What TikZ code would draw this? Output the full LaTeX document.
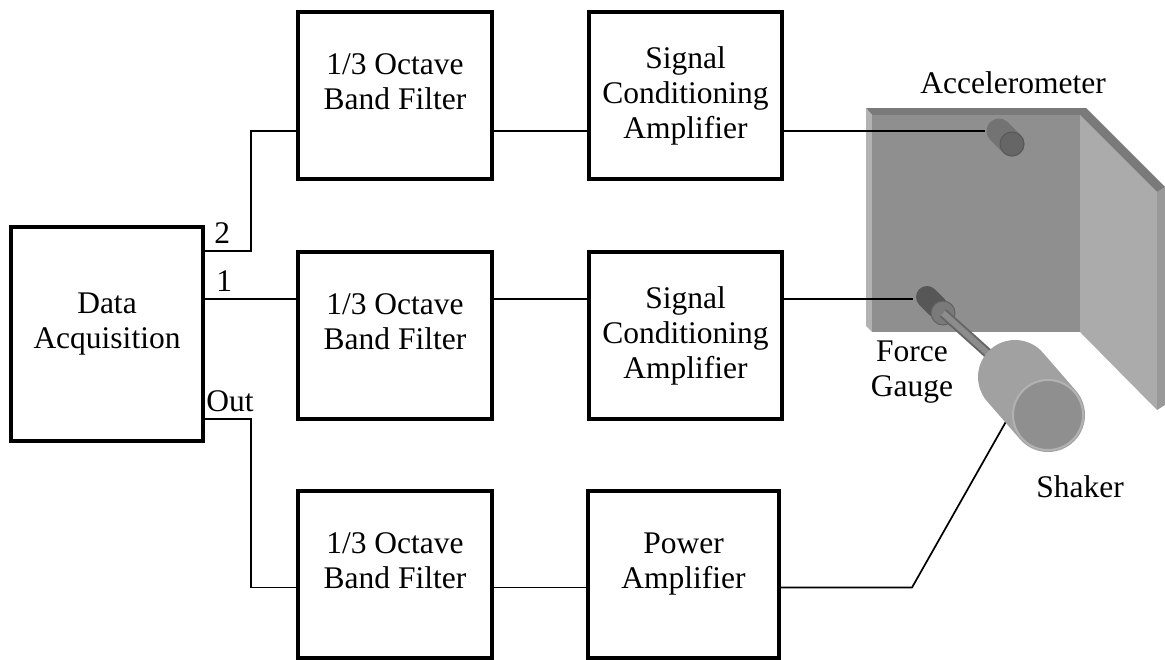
\documentclass[tikz,border=0pt]{standalone}
\usepackage{fontspec}
\setmainfont{Liberation Serif}
\begin{document}
\begin{tikzpicture}[x=0.5pt, y=-0.5pt, %Montaje de medida
        every node/.style={font=\fontsize{15.75pt}{17.5pt}\selectfont},
        blk/.style={draw, line width=2pt, inner sep=0pt, outer sep=0pt, align=center},
        lifted/.style={text depth=13.5pt},
        wire/.style={line width=0.85pt},
        port/.style={anchor=base west, inner sep=0pt}]
            \useasboundingbox (0,0) rectangle (1165,659);

            % placa en L
            \fill[black!33] (1080,115) -- (1157,192) -- (1157,410) -- (1080,332) -- cycle;
            \fill[black!40] (1157,192) -- (1165,187) -- (1165,405) -- (1157,410) -- cycle;
            \fill[black!52] (866,108) -- (1086,108) -- (1165,187) -- (1157,192) -- (1080,115) -- (872,115) -- cycle;
            \fill[black!30] (866,108) -- (872,115) -- (872,332) -- (866,326) -- cycle;
            \fill[black!44] (872,115) rectangle (1080,332);

            \node[blk, minimum width=96pt, minimum height=107pt, lifted] (daq) at (107,334) {Data\\Acquisition};

            \node[blk, minimum width=97pt, minimum height=83.5pt, lifted] (filt2) at (395,95.5) {1/3 Octave\\Band Filter};
            \node[blk, minimum width=97pt, minimum height=83.5pt, lifted] (filt1) at (395,335.5) {1/3 Octave\\Band Filter};
            \node[blk, minimum width=97pt, minimum height=83.5pt, lifted] (filt0) at (395,574) {1/3 Octave\\Band Filter};

            \node[blk, minimum width=96.5pt, minimum height=83.5pt] (cond2) at (685.5,95.5) {Signal\\Conditioning\\Amplifier};
            \node[blk, minimum width=96.5pt, minimum height=83.5pt] (cond1) at (685.5,335.5) {Signal\\Conditioning\\Amplifier};
            \node[blk, minimum width=95.5pt, minimum height=83.5pt, lifted] (power) at (683.5,574) {Power\\Amplifier};

            \coordinate (ch2) at ([yshift=-12pt]daq.north east);
            \coordinate (ch1) at ([yshift=-36pt]daq.north east);
            \coordinate (chout) at ([yshift=-96pt]daq.north east);
            \coordinate (in2) at ([yshift=-59.5pt]filt2.north west);
            \coordinate (in0) at ([yshift=-48.5pt]filt0.north west);
            \coordinate (acc) at (985,131);
            \coordinate (gauge) at (913,299);
            \coordinate (bend) at (912,587.5);
            \coordinate (shk) at (1008,418);

            \draw[wire] (ch2) -- ++(24pt,0) |- (in2);
            \draw[wire] (ch1) -- (ch1 -| filt1.west);
            \draw[wire] (chout) -- ++(24pt,0) |- (in0);

            \draw[wire] (in2 -| filt2.east) -- (in2 -| cond2.west);
            \draw[wire] (ch1 -| filt1.east) -- (ch1 -| cond1.west);
            \draw[wire] (in0 -| filt0.east) -- (in0 -| power.west);

            \draw[wire] (in2 -| cond2.east) -- (acc);
            \draw[wire] (ch1 -| cond1.east) -- (gauge);
            \draw[wire] (in0 -| power.east) -- (bend) -- (shk);

            % acelerometro
            \draw[line width=12.5pt, line cap=round, black!55] (999,131) -- (1012,144);
            \filldraw[fill=black!60, draw=black!66, line width=0.5pt] (1012,144) circle (6pt);

            % galga y varilla
            \draw[line width=11pt, line cap=round, black!66] (927,297) -- (937,307);
            \filldraw[fill=black!52, draw=black!62, line width=0.5pt] (943,313) circle (6pt);
            \draw[line width=5pt, black!60] (943,313) -- (1012,375);
            \draw[line width=3pt, black!45] (943,313) -- (1012,375);

            % excitador
            \draw[line width=37pt, line cap=round, black!37] (1015,377) -- (1048,415);
            \filldraw[fill=black!44, draw=black!30, line width=1pt] (1048,415) circle (17.5pt);

            \node[port] (n2) at ([xshift=5.5pt,yshift=4pt]ch2) {2};
            \node[port] (n1) at ([xshift=6.5pt,yshift=4pt]ch1) {1};
            \node[port] (nout) at ([xshift=1.5pt,yshift=4pt]chout) {Out};
            \node[anchor=base] (accname) at (1013,93) {Accelerometer};
            \node[align=center] (gaugename) at (912,372.5) {Force\\Gauge};
            \node[anchor=base] (shkname) at (1080,497) {Shaker};
        \end{tikzpicture}
\end{document}
